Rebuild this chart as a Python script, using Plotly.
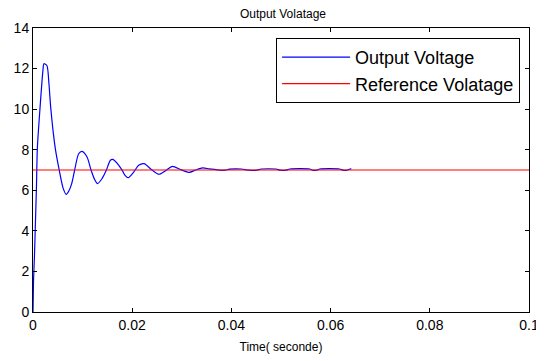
import plotly.graph_objects as go

# Output voltage samples (time in s, volts)
t_out = [0, 0.0001, 0.0003, 0.0005, 0.0007, 0.00087, 0.0014, 0.002, 0.0022, 0.0028,
         0.0032, 0.0036, 0.0045, 0.0053, 0.0061, 0.0067, 0.0072, 0.0078, 0.0084, 0.0092,
         0.0099, 0.0109, 0.0117, 0.0124, 0.0130, 0.0139, 0.0148, 0.0156, 0.0161, 0.0173,
         0.0180, 0.0186, 0.0192, 0.0203, 0.0213, 0.0224, 0.0240, 0.0254, 0.0268, 0.0281,
         0.0298, 0.0315, 0.0328, 0.0342, 0.0355, 0.0369, 0.0376, 0.0388, 0.0396, 0.0420,
         0.0435, 0.0451, 0.0460, 0.0490, 0.0498, 0.0510, 0.0518, 0.0558, 0.0564, 0.0572,
         0.0578, 0.0618, 0.0625, 0.0633, 0.0639, 0.0642]
v_out = [0, 1.5, 2.8, 4.5, 6.2, 8.05, 10.0, 11.9, 12.24, 12.15,
         11.3, 10.0, 8.05, 6.98, 6.08, 5.8, 5.95, 6.33, 7.0, 7.8,
         7.92, 7.64, 7.0, 6.55, 6.33, 6.57, 7.0, 7.48, 7.52, 7.23,
         6.98, 6.72, 6.62, 6.9, 7.23, 7.31, 7.0, 6.79, 6.98, 7.18,
         7.02, 6.88, 7.0, 7.1, 7.06, 7.02, 6.99, 6.99, 7.04, 7.05,
         6.99, 6.99, 7.05, 7.05, 6.99, 6.99, 7.05, 7.05, 6.99, 6.99,
         7.05, 7.05, 6.99, 6.99, 7.05, 7.05]

# Reference voltage
t_ref = [0, 0.1]
v_ref = [7.0, 7.0]

x_ticks = [0, 0.02, 0.04, 0.06, 0.08, 0.1]
x_tick_labels = ["0", "0.02", "0.04", "0.06", "0.08", "0.1"]
y_ticks = [0, 2, 4, 6, 8, 10, 12, 14]

FONT = "Liberation Sans, Arial, sans-serif"

fig = go.Figure()
fig.add_trace(go.Scatter(x=t_out, y=v_out, mode="lines", name="Output Voltage",
                         line=dict(color="#0000FF", width=1.2, shape="spline", smoothing=0.7)))
fig.add_trace(go.Scatter(x=t_ref, y=v_ref, mode="lines", name="Reference Volatage",
                         line=dict(color="#FF0000", width=1.2)))

axis_common = dict(showline=True, linecolor="black", linewidth=1, mirror="ticks",
                   ticks="inside", ticklen=4, tickcolor="black", showgrid=False,
                   zeroline=False, automargin=False,
                   tickfont=dict(family=FONT, size=14, color="black"))

fig.update_layout(
    width=536, height=353,
    margin=dict(l=25, r=15, t=20, b=49, autoexpand=False),
    paper_bgcolor="white", plot_bgcolor="white",
    font=dict(family=FONT, color="black"),
    title=dict(text="Output Volatage", x=0.513, xanchor="center",
               y=0.983, yanchor="middle",
               font=dict(family=FONT, size=12, color="black")),
    xaxis=dict(range=[0, 0.1], tickvals=x_ticks, ticktext=x_tick_labels,
               title=dict(text="Time( seconde)", font=dict(family=FONT, size=12), standoff=10),
               **axis_common),
    yaxis=dict(range=[0, 14], tickvals=y_ticks, **axis_common),
    legend=dict(x=0.982, y=0.965, xanchor="right", yanchor="top",
                bgcolor="white", bordercolor="black", borderwidth=1,
                font=dict(family=FONT, size=18, color="black"),
                tracegroupgap=0, itemwidth=68),
    showlegend=True,
)

fig.write_html("out.html")
